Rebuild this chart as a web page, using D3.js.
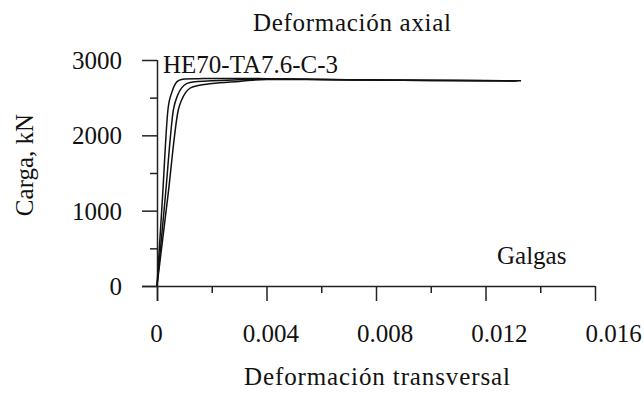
<!DOCTYPE html>
<html>
<head>
<meta charset="utf-8">
<script src="https://cdn.jsdelivr.net/npm/d3@7"></script>
<style>
  html, body { margin: 0; padding: 0; background: #fff; }
  svg { display: block; }
  text { font-family: "Liberation Serif", "Times New Roman", serif; fill: #111; }
</style>
</head>
<body>
<svg id="chart" width="644" height="394"></svg>
<script>
// Load–strain curves of the three strain gauges (transverse strain vs. axial load)
const strainA = [0, 0.0002, 0.0004, 0.00055, 0.00068, 0.0008, 0.001, 0.0015, 0.002, 0.003, 0.004, 0.006, 0.008, 0.010, 0.012, 0.0133];
const loadA   = [0, 1170, 2340, 2580, 2690, 2730, 2748, 2752, 2754, 2756, 2752, 2742, 2735, 2730, 2727, 2724];

const strainB = [0, 0.0003, 0.0006, 0.00075, 0.0009, 0.0011, 0.0014, 0.002, 0.003, 0.004, 0.006, 0.008, 0.010, 0.012, 0.0132];
const loadB   = [0, 1170, 2340, 2530, 2630, 2690, 2712, 2725, 2738, 2748, 2742, 2734, 2729, 2726, 2723];

const strainC = [0, 0.0004, 0.00078, 0.0009, 0.00105, 0.0012, 0.0015, 0.002, 0.003, 0.004, 0.006, 0.008, 0.010, 0.012, 0.0131];
const loadC   = [0, 1200, 2340, 2470, 2570, 2625, 2662, 2688, 2716, 2742, 2740, 2733, 2728, 2725, 2722];

const series = [
  { strain: strainA, load: loadA },
  { strain: strainB, load: loadB },
  { strain: strainC, load: loadC }
];

const xMajor = [0, 0.004, 0.008, 0.012, 0.016];
const xMinor = [0.002, 0.006, 0.010, 0.014];
const yMajor = [0, 1000, 2000, 3000];
const yMinor = [500, 1500, 2500];

const titleTop = "Deformación axial";
const titleX = "Deformación transversal";
const titleY = "Carga, kN";
const specimen = "HE70-TA7.6-C-3";
const gaugeLabel = "Galgas";

const svg = d3.select("#chart");
const FS = 25;

const x = d3.scaleLinear().domain([0, 0.016]).range([157, 595]);
const y = d3.scaleLinear().domain([0, 3000]).range([286, 60]);
// tick labels sit on a slightly wider spread than the ticks
const xLabel = d3.scaleLinear().domain([0, 0.016]).range([156, 613]);

const fmtX = d => d === 0 ? "0" : d3.format(".3f")(d);

// x axis: minor ticks, then major ticks with labels
svg.append("g")
  .attr("transform", `translate(0,${y(0)})`)
  .call(d3.axisBottom(x).tickValues(xMinor).tickSize(7).tickSizeOuter(0).tickFormat(""))
  .call(g => g.select(".domain").remove())
  .call(g => g.selectAll("line").attr("stroke", "#222").attr("stroke-width", 1.5));

const gx = svg.append("g")
  .attr("transform", `translate(0,${y(0)})`)
  .call(d3.axisBottom(x).tickValues(xMajor).tickSize(15).tickSizeOuter(0).tickFormat(fmtX));
gx.select(".domain").attr("stroke", "#222").attr("stroke-width", 1.5)
  .attr("d", `M${x(0) - 15},0.5H${x(0.016)}`);
gx.selectAll("line").attr("stroke", "#222").attr("stroke-width", 1.5);
gx.selectAll("text")
  .attr("font-size", FS)
  .attr("font-family", "Liberation Serif, serif")
  .attr("fill", "#111")
  .attr("x", d => xLabel(d) - x(d))
  .attr("y", 56)
  .attr("dy", null);

// y axis
svg.append("g")
  .attr("transform", `translate(${x(0)},0)`)
  .call(d3.axisLeft(y).tickValues(yMinor).tickSize(7).tickSizeOuter(0).tickFormat(""))
  .call(g => g.select(".domain").remove())
  .call(g => g.selectAll("line").attr("stroke", "#222").attr("stroke-width", 1.5));

const gy = svg.append("g")
  .attr("transform", `translate(${x(0)},0)`)
  .call(d3.axisLeft(y).tickValues(yMajor).tickSize(15).tickSizeOuter(0).tickFormat(d3.format("d")));
gy.select(".domain").attr("stroke", "#222").attr("stroke-width", 1.5)
  .attr("d", `M0.5,${y(3000)}V${y(0) + 15}`);
gy.selectAll("line").attr("stroke", "#222").attr("stroke-width", 1.5);
gy.selectAll("text")
  .attr("font-size", FS)
  .attr("font-family", "Liberation Serif, serif")
  .attr("fill", "#111")
  .attr("x", -35)
  .attr("dy", "0.34em");

// curves
const line = d3.line()
  .x(d => x(d[0]))
  .y(d => y(d[1]))
  .curve(d3.curveMonotoneX);

svg.append("g").selectAll("path")
  .data(series)
  .join("path")
  .attr("d", s => line(s.strain.map((v, i) => [v, s.load[i]])))
  .attr("fill", "none")
  .attr("stroke", "#111")
  .attr("stroke-width", 1.5);

// titles and annotations
svg.append("text").attr("x", 352).attr("y", 31)
  .attr("text-anchor", "middle").attr("font-size", FS)
  .attr("textLength", 198).attr("lengthAdjust", "spacing")
  .text(titleTop);

svg.append("text").attr("x", 377).attr("y", 385)
  .attr("text-anchor", "middle").attr("font-size", FS)
  .attr("textLength", 266).attr("lengthAdjust", "spacing")
  .text(titleX);

svg.append("text")
  .attr("transform", "translate(33,165) rotate(-90)")
  .attr("text-anchor", "middle").attr("font-size", FS).text(titleY);

svg.append("text").attr("x", 163).attr("y", 73)
  .attr("font-size", FS).text(specimen);

svg.append("text").attr("x", 497).attr("y", 264)
  .attr("font-size", FS).text(gaugeLabel);
</script>
</body>
</html>
